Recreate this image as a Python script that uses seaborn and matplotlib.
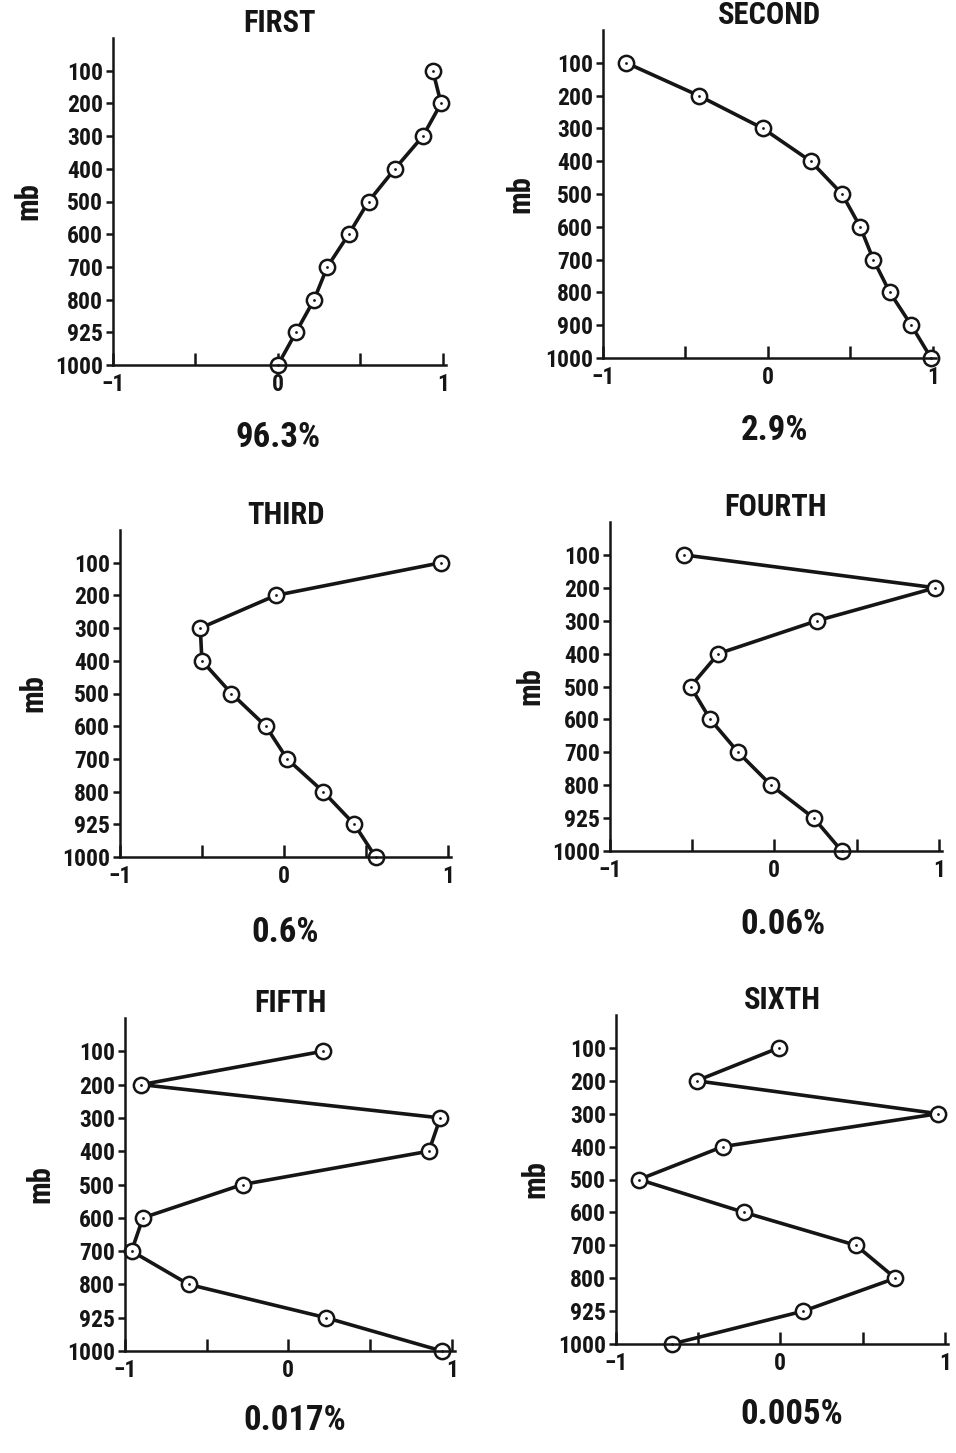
import numpy as np
import pandas as pd
import seaborn as sns
import matplotlib.pyplot as plt
from matplotlib import font_manager

# =========================
# Datos
# =========================
levels = [100, 200, 300, 400, 500, 600, 700, 800, 925, 1000]
levels_second = [100, 200, 300, 400, 500, 600, 700, 800, 900, 1000]
titles = ["FIRST", "SECOND", "THIRD", "FOURTH", "FIFTH", "SIXTH"]
variance = ["96.3%", "2.9%", "0.6%", "0.06%", "0.017%", "0.005%"]

first = [0.94, 0.99, 0.88, 0.71, 0.55, 0.43, 0.30, 0.22, 0.11, 0.00]
second = [-0.86, -0.42, -0.03, 0.26, 0.45, 0.56, 0.64, 0.74, 0.87, 0.99]
third = [0.96, -0.05, -0.51, -0.50, -0.32, -0.11, 0.02, 0.24, 0.43, 0.56]
fourth = [-0.55, 0.98, 0.26, -0.34, -0.51, -0.39, -0.22, -0.02, 0.24, 0.41]
fifth = [0.21, -0.90, 0.93, 0.86, -0.28, -0.89, -0.96, -0.61, 0.23, 0.94]
sixth = [-0.01, -0.51, 0.96, -0.35, -0.86, -0.22, 0.46, 0.70, 0.14, -0.66]

series = [first, second, third, fourth, fifth, sixth]
level_labels = [levels, levels_second, levels, levels, levels, levels]

# =========================
# Layout en pixeles (izq, arriba, der, abajo) y etiquetas de %
# =========================
W, H = 956, 1453
boxes = [(113, 38, 446, 365), (603, 30, 936, 358),
         (120, 530, 451, 857), (610, 522, 942, 851),
         (125, 1018, 455, 1351), (616, 1015, 948, 1344)]
pct_pos = [(278, 437), (775, 430), (285, 933), (783, 924), (295, 1421), (792, 1414)]
mb_x = [28, 520, 33, 530, 40, 535]

sns.set_style("ticks")
disponibles = {f.name for f in font_manager.fontManager.ttflist}
familias = [f for f in ["Roboto Condensed", "Liberation Sans Narrow", "Roboto"]
            if f in disponibles] + ["DejaVu Sans"]
plt.rcParams['font.family'] = familias
plt.rcParams['font.weight'] = 'bold'
ink = "#151515"

fig = plt.figure(figsize=(W / 100, H / 100), dpi=100)
fig.patch.set_facecolor("white")

for i, vals in enumerate(series):
    l, t, r, b = boxes[i]
    ax = fig.add_axes([l / W, 1 - b / H, (r - l) / W, (b - t) / H])
    df = pd.DataFrame({"valor": vals, "nivel": np.arange(len(vals))})

    sns.lineplot(data=df, x="valor", y="nivel", sort=False, estimator=None,
                 color=ink, lw=2.6, ax=ax, clip_on=False,
                 marker="o", markersize=11, markerfacecolor="white",
                 markeredgecolor=ink, markeredgewidth=1.8)
    # punto central de cada marcador
    sns.scatterplot(data=df, x="valor", y="nivel", color=ink, s=4,
                    linewidth=0, ax=ax, clip_on=False, zorder=5)

    ax.set_xlim(-1, 1.02)
    ax.set_ylim(9, -1)
    ax.set_yticks(range(10))
    ax.set_yticklabels(level_labels[i], fontsize=17, fontweight="bold", color=ink)
    ax.set_xticks([-1, -0.5, 0, 0.5, 1])
    ax.set_xticklabels(["\u22121", "", "0", "", "1"], fontsize=17,
                       fontweight="bold", color=ink)
    ax.tick_params(axis="x", direction="in", length=9, width=1.8, pad=6, colors=ink)
    ax.tick_params(axis="y", direction="out", length=5, width=1.8, pad=2, colors=ink)
    for s in ["top", "right"]:
        ax.spines[s].set_visible(False)
    for s in ["left", "bottom"]:
        ax.spines[s].set_linewidth(1.8)
        ax.spines[s].set_color(ink)
    ax.set_xlabel("")
    ax.set_ylabel("")
    ax.set_facecolor("none")

    ax.set_title(titles[i], fontsize=22, fontweight="bold", color=ink, pad=3)
    fig.text(mb_x[i] / W, 1 - ((t + b) / 2) / H, "mb", rotation=90,
             fontsize=22, fontweight="bold", color=ink, ha="center", va="center")
    px, py = pct_pos[i]
    fig.text(px / W, 1 - py / H, variance[i], fontsize=25, fontweight="bold",
             color=ink, ha="center", va="center")

plt.savefig("out.png", dpi=100)
plt.close(fig)
